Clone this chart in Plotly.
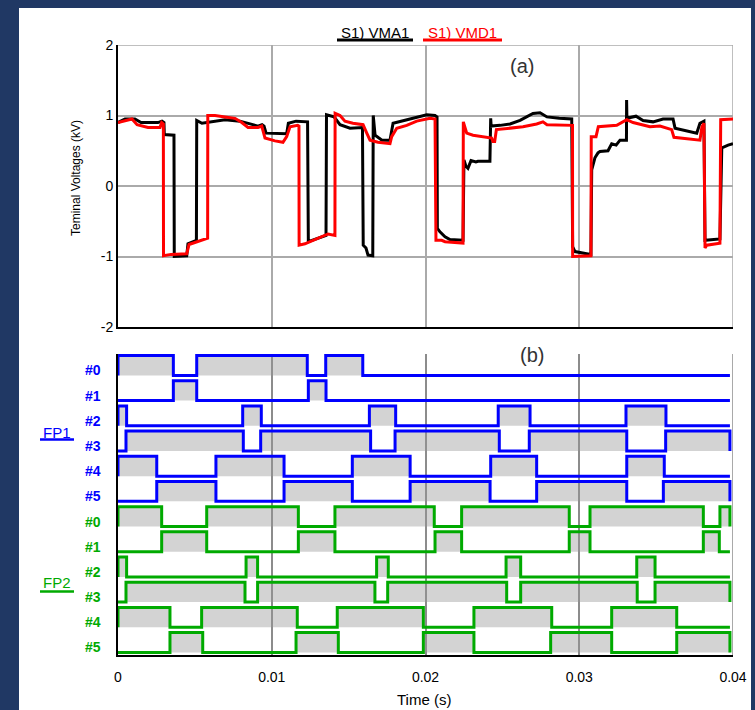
import plotly.graph_objects as go

W, H = 755, 710

# ---------------- (a) terminal voltages ----------------
vma1_t = [0.0, 0.00046, 0.0011, 0.0015, 0.0026, 0.00286, 0.00299, 0.00301, 0.00364, 0.00366,
          0.00447, 0.00455, 0.0051, 0.00512, 0.00546, 0.00631, 0.00696, 0.00793, 0.00859, 0.0091,
          0.00937, 0.0095, 0.00963, 0.01097, 0.01108, 0.01158, 0.01233, 0.01238, 0.01353, 0.01356,
          0.01405, 0.01444, 0.01509, 0.0159, 0.01595, 0.01613, 0.01626, 0.01657, 0.0166, 0.01672,
          0.01697, 0.01717, 0.01769, 0.0178, 0.01789, 0.0188, 0.01964, 0.02008, 0.02062, 0.02075,
          0.02077, 0.02094, 0.02127, 0.02159, 0.02244, 0.0225, 0.02263, 0.02276, 0.02296, 0.02328,
          0.02341, 0.02419, 0.02424, 0.02427, 0.02485, 0.0255, 0.02615, 0.02699, 0.02745, 0.0279,
          0.0287, 0.02951, 0.02957, 0.02972, 0.03048, 0.03076, 0.03081, 0.03102, 0.03122, 0.03135,
          0.03187, 0.03211, 0.0324, 0.03265, 0.03307, 0.03308, 0.0331, 0.03369, 0.03415, 0.0348,
          0.03545, 0.0361, 0.03623, 0.03764, 0.03785, 0.03811, 0.03818, 0.03915, 0.03927, 0.03968,
          0.04]
vma1_v = [0.90, 0.95, 0.95, 0.90, 0.90, 0.92, 0.90, 0.73, 0.72, -1.00,
          -0.99, -0.82, -0.77, 0.93, 0.89, 0.92, 0.94, 0.92, 0.88, 0.85,
          0.87, 0.85, 0.75, 0.74, 0.89, 0.92, 0.91, -0.79, -0.70, 1.01,
          0.98, 0.87, 0.82, 0.83, -0.84, -0.88, -0.98, -0.99, 1.00, 0.72,
          0.68, 0.65, 0.65, 0.77, 0.89, 0.94, 0.98, 1.01, 1.00, 0.98,
          -0.60, -0.65, -0.72, -0.76, -0.77, 0.37, 0.28, 0.25, 0.36, 0.34,
          0.35, 0.35, 0.96, 0.85, 0.86, 0.88, 0.93, 1.03, 1.04, 0.98,
          0.96, 0.95, -0.86, -0.93, -0.96, -0.97, 0.23, 0.40, 0.47, 0.49,
          0.50, 0.60, 0.58, 0.65, 0.65, 1.22, 0.96, 0.99, 0.93, 0.91,
          0.95, 0.95, 0.82, 0.75, 0.89, 0.92, -0.77, -0.75, 0.54, 0.58,
          0.60]

vmd1_t = [0.0, 0.00065, 0.00091, 0.00124, 0.00195, 0.00273, 0.00284, 0.00295, 0.00296, 0.00345,
          0.00447, 0.00462, 0.00501, 0.00566, 0.00583, 0.00584, 0.00631, 0.00696, 0.00761, 0.00805,
          0.00846, 0.00911, 0.00935, 0.00956, 0.01021, 0.01073, 0.01097, 0.01119, 0.01169, 0.01177,
          0.01178, 0.01216, 0.01281, 0.01366, 0.01411, 0.01412, 0.01444, 0.01476, 0.01528, 0.01594,
          0.01618, 0.01639, 0.01691, 0.01769, 0.0178, 0.01813, 0.01878, 0.01943, 0.02029, 0.02062,
          0.02068, 0.02105, 0.02127, 0.02224, 0.02244, 0.02246, 0.02268, 0.02309, 0.0243, 0.02439,
          0.0245, 0.02461, 0.0255, 0.02634, 0.02723, 0.02764, 0.0279, 0.0294, 0.02956, 0.02957,
          0.03069, 0.03076, 0.03078, 0.03109, 0.03124, 0.03244, 0.03309, 0.0335, 0.0346, 0.03525,
          0.03601, 0.03616, 0.03785, 0.03798, 0.03811, 0.03818, 0.03829, 0.03915, 0.0392, 0.04]
vmd1_v = [0.90, 0.94, 0.95, 0.87, 0.83, 0.83, 0.90, 0.88, -0.99, -0.97,
          -0.96, -0.83, -0.80, -0.76, -0.74, 1.00, 1.00, 0.98, 0.96, 0.90,
          0.83, 0.83, 0.85, 0.68, 0.64, 0.62, 0.70, 0.84, 0.86, 0.85,
          -0.84, -0.82, -0.76, -0.68, -0.70, 1.03, 1.00, 0.92, 0.89, 0.87,
          0.75, 0.65, 0.62, 0.60, 0.70, 0.82, 0.86, 0.92, 0.96, 0.95,
          -0.77, -0.77, -0.79, -0.81, -0.81, 0.91, 0.75, 0.72, 0.68, 0.63,
          0.63, 0.80, 0.82, 0.84, 0.88, 0.91, 0.87, 0.87, 0.86, -1.00,
          -1.00, -0.99, 0.70, 0.70, 0.84, 0.86, 0.94, 0.90, 0.84, 0.85,
          0.80, 0.69, 0.65, 0.84, 0.89, -0.88, -0.84, -0.81, 0.94, 0.95]

# ---------------- (b) firing pulses (on, off) in seconds ----------------
fp1_0 = [(0.0, 0.0036), (0.00512, 0.01231), (0.01351, 0.01592)]
fp1_1 = [(0.0036, 0.00512), (0.01238, 0.01353)]
fp1_2 = [(0.0, 0.00056), (0.00811, 0.00932), (0.01635, 0.01806), (0.02473, 0.0268), (0.03304, 0.03564)]
fp1_3 = [(0.00052, 0.00815), (0.00928, 0.01643), (0.01802, 0.0248), (0.02675, 0.03309), (0.03562, 0.0398)]
fp1_4 = [(0.0, 0.00252), (0.00637, 0.0108), (0.01524, 0.019), (0.02424, 0.02723), (0.03309, 0.03553)]
fp1_5 = [(0.00252, 0.00637), (0.0108, 0.01524), (0.019, 0.0242), (0.02723, 0.03309), (0.03547, 0.0398)]

fp2_0 = [(0.0, 0.00284), (0.00577, 0.01173), (0.01411, 0.02057), (0.02235, 0.02935), (0.0307, 0.03807), (0.03915, 0.0398)]
fp2_1 = [(0.00284, 0.00577), (0.01173, 0.01411), (0.02062, 0.02235), (0.02935, 0.0307), (0.03807, 0.03911)]
fp2_2 = [(0.0, 0.00056), (0.00833, 0.00908), (0.01682, 0.01758), (0.02524, 0.02619), (0.03374, 0.03493)]
fp2_3 = [(0.00052, 0.00826), (0.00908, 0.01671), (0.01754, 0.02528), (0.02619, 0.03377), (0.03493, 0.0398)]
fp2_4 = [(0.0, 0.00338), (0.00544, 0.01166), (0.01426, 0.01986), (0.02315, 0.02821), (0.03211, 0.03634)]
fp2_5 = [(0.00338, 0.00551), (0.01158, 0.01433), (0.01986, 0.02315), (0.02814, 0.03211), (0.03634, 0.0398)]

row_labels = ["#0", "#1", "#2", "#3", "#4", "#5"]
group_names = ["FP1", "FP2"]
x_ticks = [0, 0.01, 0.02, 0.03, 0.04]
x_ticktext = ["0", "0.01", "0.02", "0.03", "0.04"]
y_ticks = [-2, -1, 0, 1, 2]

T_END = 0.0398
PULSE_H = 0.79
BLUE = "#0000ff"
GREEN = "#00aa00"
FONT = "Liberation Sans, Arial, sans-serif"


def px_x(p):
    return p / W


def px_y(p):
    return 1 - p / H


fig = go.Figure()

fig.add_trace(go.Scatter(x=vma1_t, y=vma1_v, mode="lines", name="S1) VMA1",
                         line=dict(color="black", width=3), xaxis="x", yaxis="y"))
fig.add_trace(go.Scatter(x=vmd1_t, y=vmd1_v, mode="lines", name="S1) VMD1",
                         line=dict(color="#ff0000", width=3), xaxis="x", yaxis="y"))

rows = [(fp1_0, BLUE), (fp1_1, BLUE), (fp1_2, BLUE), (fp1_3, BLUE), (fp1_4, BLUE), (fp1_5, BLUE),
        (fp2_0, GREEN), (fp2_1, GREEN), (fp2_2, GREEN), (fp2_3, GREEN), (fp2_4, GREEN), (fp2_5, GREEN)]

for k, (pulses, col) in enumerate(rows):
    base = 11 - k
    top = base + PULSE_H
    fx, fy = [], []
    for s, e in pulses:
        fx += [s, s, e, e, s, None]
        fy += [base, top, top, base, base, None]
    fig.add_trace(go.Scatter(x=fx, y=fy, mode="lines", fill="toself",
                             fillcolor="rgba(150,150,150,0.42)", line=dict(width=0),
                             xaxis="x2", yaxis="y2", hoverinfo="skip"))
    wx, wy = [0.0], [base]
    for s, e in pulses:
        wx += [s, s, e, e]
        wy += [base, top, top, base]
    wx.append(T_END)
    wy.append(base)
    fig.add_trace(go.Scatter(x=wx, y=wy, mode="lines", line=dict(color=col, width=3),
                             xaxis="x2", yaxis="y2", cliponaxis=False))

annotations = []
shapes = []


def note(text, x, y, size, color, **kw):
    d = dict(text=text, x=x, y=y, xref="paper", yref="paper", showarrow=False,
             xanchor="center", yanchor="middle",
             font=dict(size=size, color=color, family=FONT))
    d.update(kw)
    annotations.append(d)


# white panel
shapes.append(dict(type="rect", xref="paper", yref="paper", x0=px_x(19), x1=px_x(751),
                   y0=0, y1=px_y(8), fillcolor="white", line=dict(width=0), layer="below"))

# legend texts
note("S1) VMA1", px_x(375), px_y(32), 15, "black")
note("S1) VMD1", px_x(462), px_y(32), 15, "#ff0000")
shapes.append(dict(type="line", xref="paper", yref="paper", x0=px_x(337), x1=px_x(413),
                   y0=px_y(40), y1=px_y(40), line=dict(color="black", width=3)))
shapes.append(dict(type="line", xref="paper", yref="paper", x0=px_x(423), x1=px_x(502),
                   y0=px_y(40), y1=px_y(40), line=dict(color="#ff0000", width=3)))

# panel letters
note("(a)", px_x(522), px_y(66), 20, "#333333")
note("(b)", px_x(532), px_y(355), 20, "#333333")

# axis titles
note("Teminal Voltages (kV)", px_x(76), px_y(178), 12, "black", textangle=-90)
note("Time (s)", px_x(424), px_y(699), 15, "black")

# row labels
for k in range(12):
    col = BLUE if k < 6 else GREEN
    annotations.append(dict(text="<b>" + row_labels[k % 6] + "</b>", x=px_x(103), y=11 - k + 0.2,
                            xref="paper", yref="y2", xanchor="right", yanchor="middle",
                            showarrow=False, font=dict(size=14, color=col, family=FONT)))

# group labels
for gname, col, ty, uy in [(group_names[0], BLUE, 432, 439.5), (group_names[1], GREEN, 582.5, 591.5)]:
    note(gname, px_x(57), px_y(ty), 15, col)
    shapes.append(dict(type="line", xref="paper", yref="paper", x0=px_x(40), x1=px_x(74),
                       y0=px_y(uy), y1=px_y(uy), line=dict(color=col, width=2.5)))

# borders (top / right) of panel (a), right edge of panel (b)
shapes.append(dict(type="line", xref="x domain", yref="y", x0=0, x1=1, y0=2, y1=2,
                   line=dict(color="#aaaaaa", width=1.5), layer="below"))
shapes.append(dict(type="line", xref="x", yref="y domain", x0=0.04, x1=0.04, y0=0, y1=1,
                   line=dict(color="#aaaaaa", width=1.5), layer="below"))
shapes.append(dict(type="line", xref="x2", yref="y2 domain", x0=0.04, x1=0.04, y0=0, y1=1,
                   line=dict(color="#8c8c8c", width=1.5), layer="below"))

dom_x = [px_x(118), px_x(733)]

fig.update_layout(
    width=W, height=H,
    autosize=False,
    margin=dict(l=0, r=0, t=0, b=0, pad=0, autoexpand=False),
    paper_bgcolor="#203864",
    plot_bgcolor="white",
    showlegend=False,
    font=dict(family=FONT, color="black"),
    xaxis=dict(domain=dom_x, anchor="y", range=[0, 0.04], tickvals=[0.01, 0.02, 0.03],
               showticklabels=False, showgrid=True, gridcolor="#aaaaaa", gridwidth=1.5,
               showline=True, linecolor="black", linewidth=2, zeroline=False, ticks="",
               automargin=False),
    yaxis=dict(domain=[px_y(327), px_y(45)], anchor="x", range=[-2, 2], tickvals=y_ticks,
               ticktext=[str(v) for v in y_ticks], showgrid=True, gridcolor="#aaaaaa",
               gridwidth=1.5, showline=True, linecolor="black", linewidth=2, zeroline=False,
               ticks="", tickfont=dict(size=14, color="black"), automargin=False),
    xaxis2=dict(domain=dom_x, anchor="y2", range=[0, 0.04], tickvals=x_ticks,
                ticktext=x_ticktext, showgrid=True, gridcolor="#8c8c8c", gridwidth=1.5,
                showline=True, linecolor="black", linewidth=2, zeroline=False, ticks="",
                ticklabelstandoff=8, tickfont=dict(size=14, color="black"), automargin=False),
    yaxis2=dict(domain=[px_y(655), px_y(354)], anchor="x2", range=[-0.1, 11.85],
                showticklabels=False, showgrid=False, showline=True, linecolor="black",
                linewidth=2, zeroline=False, ticks="", automargin=False),
    annotations=annotations,
    shapes=shapes,
)

fig.write_html("out.html", config={"displayModeBar": False},
               post_script="document.body.style.margin='0';document.body.style.overflow='hidden';")
